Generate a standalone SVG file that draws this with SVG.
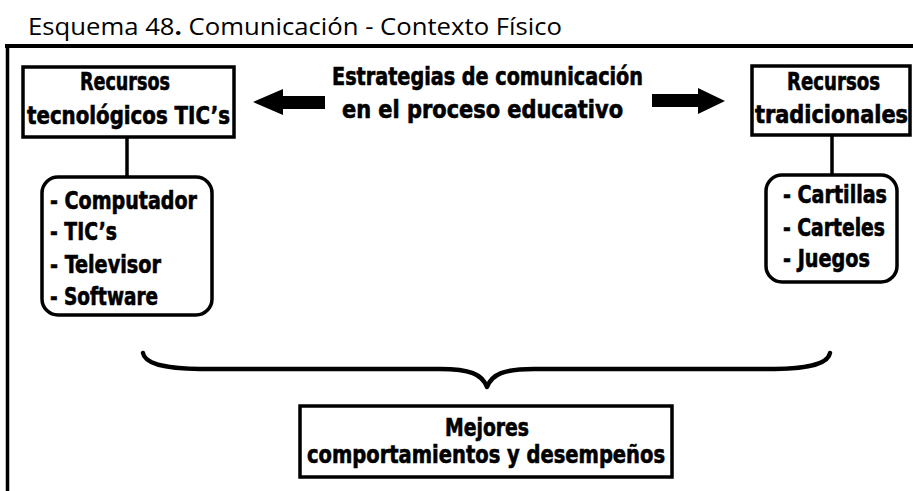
<svg xmlns="http://www.w3.org/2000/svg" width="913" height="491" viewBox="0 0 913 491">
<style>
.t{font-family:"Liberation Sans Narrow","DejaVu Sans Condensed","Liberation Sans",sans-serif;font-weight:bold;font-size:24px;fill:#000;stroke:#000;stroke-width:0.6px}
.box{fill:#fff;stroke:#000;stroke-width:3.5}
.ln{stroke:#000;stroke-width:3.5;fill:none}
.title{font-family:"Open Sans","Noto Sans","Liberation Sans",sans-serif;font-size:23.5px;fill:#000}
</style>
<rect width="913" height="491" fill="#fff"/>
<text class="title" x="28" y="35" textLength="534" lengthAdjust="spacingAndGlyphs">Esquema 48<tspan font-weight="bold">.</tspan>  Comunicación - Contexto Físico</text>
<g id="frame">
<line x1="5" y1="46" x2="913" y2="46" stroke="#000" stroke-width="4"/>
<line x1="7.5" y1="44" x2="7.5" y2="491" stroke="#000" stroke-width="3.5"/>
</g>
<g id="connectors">
<path d="M325,96 L283,96 L283,89 L253,102 L283,115 L283,109 L325,109 Z" fill="#000"/>
<path d="M652,94 L698,94 L698,88 L725,101 L698,114 L698,107 L652,107 Z" fill="#000"/>
<line class="ln" x1="127" y1="137" x2="127" y2="177"/>
<line class="ln" x1="832" y1="135" x2="832" y2="175"/>
<path d="M143,353 C145,365 172,369 200,369 L440,369 C470,369 482,374 487,387 C492,374 504,369 534,369 L775,369 C802,369 828,365 830,353" fill="none" stroke="#000" stroke-width="4.5" stroke-linecap="round" stroke-linejoin="round"/>
</g>
<g id="center">
<text class="t" x="332" y="85" textLength="311" lengthAdjust="spacingAndGlyphs">Estrategias de comunicación</text>
<text class="t" x="342" y="118" textLength="281" lengthAdjust="spacingAndGlyphs">en el proceso educativo</text>
</g>
<g id="tic">
<rect class="box" x="23" y="67" width="211" height="70"/>
<text class="t" x="80" y="90" textLength="90" lengthAdjust="spacingAndGlyphs">Recursos</text>
<text class="t" x="27" y="124" textLength="203" lengthAdjust="spacingAndGlyphs">tecnológicos TIC’s</text>
</g>
<g id="tradicionales">
<rect class="box" x="752" y="66" width="158" height="69"/>
<text class="t" x="787" y="90" textLength="93" lengthAdjust="spacingAndGlyphs">Recursos</text>
<text class="t" x="755" y="123" textLength="153" lengthAdjust="spacingAndGlyphs">tradicionales</text>
</g>
<g id="tic-items">
<rect class="box" x="42" y="177" width="170" height="138" rx="16"/>
<text class="t" x="50" y="209" textLength="147" lengthAdjust="spacingAndGlyphs">- Computador</text>
<text class="t" x="50" y="240" textLength="67" lengthAdjust="spacingAndGlyphs">- TIC’s</text>
<text class="t" x="50" y="273" textLength="111" lengthAdjust="spacingAndGlyphs">- Televisor</text>
<text class="t" x="50" y="305" textLength="108" lengthAdjust="spacingAndGlyphs">- Software</text>
</g>
<g id="trad-items">
<rect class="box" x="766" y="175" width="131" height="107" rx="16"/>
<text class="t" x="783" y="203" textLength="104" lengthAdjust="spacingAndGlyphs">- Cartillas</text>
<text class="t" x="783" y="236" textLength="102" lengthAdjust="spacingAndGlyphs">- Carteles</text>
<text class="t" x="783" y="267" textLength="87" lengthAdjust="spacingAndGlyphs">- Juegos</text>
</g>
<g id="resultado">
<rect class="box" x="300" y="406" width="372" height="71"/>
<text class="t" x="445" y="436" textLength="84" lengthAdjust="spacingAndGlyphs">Mejores</text>
<text class="t" x="307" y="463" textLength="358" lengthAdjust="spacingAndGlyphs">comportamientos y desempeños</text>
</g>
</svg>
